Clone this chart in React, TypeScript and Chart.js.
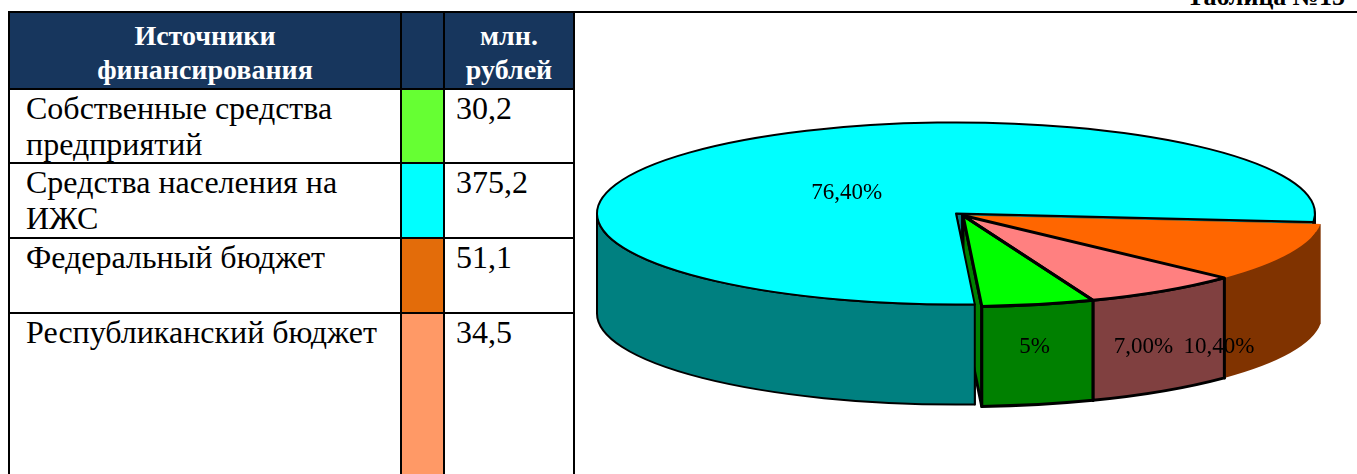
import React, { useEffect, useRef } from 'react';
import { Chart, registerables } from 'chart.js';

Chart.register(...registerables);

// ---- table data ----
const tableTitle = 'Таблица №15';
const headerSource = 'Источники\nфинансирования';
const headerUnit = 'млн.\nрублей';
const sourceNames = [
  'Собственные средства\nпредприятий',
  'Средства населения на\nИЖС',
  'Федеральный бюджет',
  'Республиканский бюджет',
];
const sourceValues = ['30,2', '375,2', '51,1', '34,5'];
const sourceSwatches = ['#66FF33', '#00FFFF', '#E36C0A', '#FF9966'];

// ---- pie data ----
const pieCategories = [
  'Средства населения на ИЖС',
  'Федеральный бюджет',
  'Республиканский бюджет',
  'Собственные средства предприятий',
];
const pieShares = [76.4, 10.4, 7.0, 5];
const pieLabels = ['76,40%', '10,40%', '7,00%', '5%'];
const pieTopColors = ['#00FFFF', '#FF6600', '#FF8080', '#00FF00'];
const pieSideColors = ['#008080', '#803300', '#804040', '#008000'];
const pieBorderWidths = [2, 0, 3, 3];
const pieExploded = [false, true, true, true];
const pieLabelAnchor = [0.5, 0.95, 0.58, 0.5];

const TAU = Math.PI * 2;
const SERIF = '"Liberation Serif", "Times New Roman", serif';

const pie3dPlugin = {
  id: 'pie3d',
  beforeDatasetsDraw(chart: any, _args: any, opts: any) {
    const ctx = chart.ctx as CanvasRenderingContext2D;
    const meta = chart.getDatasetMeta(0);
    const items = meta.data.map((arc: any, i: number) => {
      const p = arc.getProps(['x', 'y', 'startAngle', 'endAngle', 'outerRadius']);
      const ex = opts.exploded[i];
      const a = p.outerRadius;
      let s = p.startAngle % TAU;
      if (s < 0) s += TAU;
      return {
        cx: p.x + (ex ? opts.shiftX : 0),
        cy: p.y + (ex ? opts.shiftY : 0),
        a,
        b: a * opts.tilt,
        d: a * opts.depth,
        s,
        e: s + (p.endAngle - p.startAngle),
        top: arc.options.backgroundColor,
        side: opts.sideColors[i],
        bw: arc.options.borderWidth,
        bc: arc.options.borderColor,
      };
    });

    ctx.save();
    ctx.lineJoin = 'round';
    const fillStroke = (it: any, fill: string, doStroke = true) => {
      ctx.fillStyle = fill;
      ctx.fill();
      if (doStroke && it.bw > 0) {
        ctx.lineWidth = it.bw;
        ctx.strokeStyle = it.bc;
        ctx.stroke();
      }
    };

    // radial cut faces, back to front
    const faces: any[] = [];
    items.forEach((it: any) => {
      faces.push([it, it.s]);
      faces.push([it, it.e]);
    });
    faces.sort((f, g) => Math.sin(f[1]) - Math.sin(g[1]));
    faces.forEach(([it, t]) => {
      const rx = it.cx + it.a * Math.cos(t);
      const ry = it.cy + it.b * Math.sin(t);
      ctx.beginPath();
      ctx.moveTo(it.cx, it.cy);
      ctx.lineTo(rx, ry);
      ctx.lineTo(rx, ry + it.d);
      ctx.lineTo(it.cx, it.cy + it.d);
      ctx.closePath();
      fillStroke(it, it.side);
    });

    // outer walls on the front half
    items.forEach((it: any) => {
      [0, TAU].forEach((base) => {
        const t1 = Math.max(it.s, base);
        const t2 = Math.min(it.e, base + Math.PI);
        if (t2 - t1 <= 1e-4) return;
        ctx.beginPath();
        ctx.ellipse(it.cx, it.cy, it.a, it.b, 0, t1, t2);
        ctx.lineTo(it.cx + it.a * Math.cos(t2), it.cy + it.d + it.b * Math.sin(t2));
        ctx.ellipse(it.cx, it.cy + it.d, it.a, it.b, 0, t2, t1, true);
        ctx.closePath();
        fillStroke(it, it.side);
      });
    });

    // top faces
    const topPath = (it: any) => {
      ctx.beginPath();
      ctx.moveTo(it.cx, it.cy);
      ctx.ellipse(it.cx, it.cy, it.a, it.b, 0, it.s, it.e);
      ctx.closePath();
    };
    items.forEach((it: any) => {
      topPath(it);
      fillStroke(it, it.top, false);
    });
    items.forEach((it: any) => {
      if (it.bw > 0) {
        topPath(it);
        ctx.lineWidth = it.bw;
        ctx.strokeStyle = it.bc;
        ctx.stroke();
      }
    });

    // percentage labels
    const size = opts.labelSize;
    ctx.font = `${size}px ${SERIF}`;
    ctx.fillStyle = '#000';
    ctx.textAlign = 'center';
    ctx.textBaseline = 'middle';
    items.forEach((it: any, i: number) => {
      const t = it.s + (it.e - it.s) * opts.labelAnchor[i];
      let x: number;
      let y: number;
      if (Math.sin(t) > 0) {
        x = it.cx + it.a * Math.cos(t) * 0.95;
        y = it.cy + it.b + it.d * 0.4;
      } else {
        x = it.cx + it.a * Math.cos(t) * 0.44;
        y = it.cy + it.b * Math.sin(t) * 0.44 + size * 0.35;
      }
      ctx.fillText(pieLabels[i], x, y);
    });

    ctx.restore();
    return false;
  },
};

const border = '2px solid #000';
const navy = '#17365D';

export default function App() {
  const canvasRef = useRef<HTMLCanvasElement>(null);

  useEffect(() => {
    const chart = new Chart(canvasRef.current as HTMLCanvasElement, {
      type: 'pie',
      data: {
        labels: pieCategories,
        datasets: [
          {
            data: pieShares,
            backgroundColor: pieTopColors,
            borderColor: '#000000',
            borderWidth: pieBorderWidths,
            hoverOffset: 0,
            offset: 0,
          } as any,
        ],
      },
      options: {
        responsive: false,
        animation: false,
        events: [],
        rotation: 177,
        layout: { padding: 0 },
        plugins: {
          legend: { display: false },
          tooltip: { enabled: false },
          pie3d: {
            tilt: 0.2535,
            depth: 0.2786,
            shiftX: 7,
            shiftY: 2,
            exploded: pieExploded,
            sideColors: pieSideColors,
            labelAnchor: pieLabelAnchor,
            labelSize: 23,
          },
        } as any,
      },
      plugins: [pie3dPlugin as any],
    });
    return () => chart.destroy();
  }, []);

  const headCell: React.CSSProperties = {
    background: navy,
    color: '#fff',
    fontFamily: SERIF,
    fontWeight: 'bold',
    fontSize: 28,
    lineHeight: '34px',
    textAlign: 'center',
    verticalAlign: 'middle',
    border,
    padding: '5px 0 0 0',
    whiteSpace: 'pre',
  };
  const bodyCell: React.CSSProperties = {
    fontFamily: SERIF,
    fontWeight: 'normal',
    fontSize: 32,
    lineHeight: '36px',
    verticalAlign: 'top',
    border,
    padding: '0 4px 0 16px',
    whiteSpace: 'pre',
    color: '#000',
  };
  const rowHeights = [74, 75, 75, 220];

  return (
    <div
      style={{
        position: 'fixed',
        left: 0,
        top: 0,
        width: 1357,
        height: 474,
        overflow: 'hidden',
        background: '#fff',
        fontFamily: SERIF,
      }}
    >
      <div
        style={{
          position: 'absolute',
          right: 12,
          top: -16,
          fontFamily: SERIF,
          fontSize: 26,
          lineHeight: '26px',
          fontWeight: 'bold',
          whiteSpace: 'nowrap',
        }}
      >
        {tableTitle}
      </div>
      <div style={{ position: 'absolute', left: 572, top: 11, width: 785, height: 2, background: '#000' }} />
      <table
        style={{
          position: 'absolute',
          left: 8,
          top: 11,
          width: 565,
          borderCollapse: 'collapse',
          tableLayout: 'fixed',
          fontFamily: SERIF,
        }}
      >
        <colgroup>
          <col style={{ width: 392 }} />
          <col style={{ width: 43 }} />
          <col style={{ width: 130 }} />
        </colgroup>
        <tbody>
          <tr style={{ height: 77 }}>
            <td style={headCell}>{headerSource}</td>
            <td style={headCell}></td>
            <td style={headCell}>{headerUnit}</td>
          </tr>
          {sourceNames.map((name, i) => (
            <tr key={i} style={{ height: rowHeights[i] }}>
              <td style={bodyCell}>{name}</td>
              <td style={{ border, background: sourceSwatches[i], padding: 0 }}></td>
              <td style={{ ...bodyCell, paddingLeft: 11 }}>{sourceValues[i]}</td>
            </tr>
          ))}
        </tbody>
      </table>
      <canvas
        ref={canvasRef}
        width={744}
        height={721}
        style={{ position: 'absolute', left: 584, top: -147, display: 'block' }}
      />
    </div>
  );
}
